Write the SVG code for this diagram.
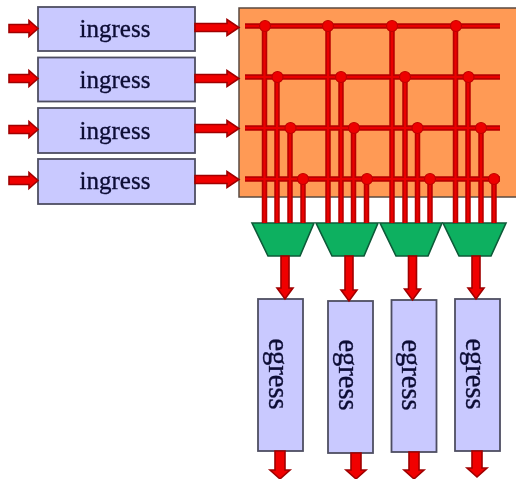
<svg xmlns="http://www.w3.org/2000/svg" width="516" height="479" viewBox="0 0 516 479">
  <defs>
    <filter id="soft" x="0" y="0" width="516" height="479" filterUnits="userSpaceOnUse"><feGaussianBlur stdDeviation="0.7"/></filter>
  </defs>
  <style>
    .box{fill:#c9c9ff;stroke:#4e4e62;stroke-width:1.800}
    .t{font-family:"Liberation Serif","Times New Roman",serif;fill:#0c0c34;stroke:#0c0c34;stroke-width:0.350;text-anchor:middle}
    .in{font-size:25px}
    .eg{font-size:28.500px}
    .arrow{fill:#f00000;stroke:#a00000;stroke-width:1.600;stroke-linejoin:miter}
    .wo{stroke:#b80000;stroke-width:5.500;fill:none}
    .wi{stroke:#ea0000;stroke-width:2.200;fill:none}
    .dot{fill:#ee0000;stroke:#c00000;stroke-width:1.200}
    .mux{fill:#0cb060;stroke:#0c5a38;stroke-width:1.600}
  </style>
  <g filter="url(#soft)">
    <rect width="516" height="479" fill="#ffffff"/>
    <g id="fabric"><rect x="239" y="8" width="280" height="189" fill="#ff9a55" stroke="#5a4a40" stroke-width="1.500"/></g>
    <g id="ingress-1"><rect class="box" x="38" y="7" width="157" height="44"/><text class="t in" x="115" y="37">ingress</text></g>
    <g id="ingress-2"><rect class="box" x="38" y="57.500" width="157" height="44"/><text class="t in" x="115" y="88">ingress</text></g>
    <g id="ingress-3"><rect class="box" x="38" y="108" width="157" height="45"/><text class="t in" x="115" y="138.500">ingress</text></g>
    <g id="ingress-4"><rect class="box" x="38" y="159" width="157" height="45"/><text class="t in" x="115" y="189">ingress</text></g>
    <g id="mux-1"><path class="mux" d="M252 223H314L300 256H268Z"/></g>
    <g id="mux-2"><path class="mux" d="M316 223H378L364 256H332Z"/></g>
    <g id="mux-3"><path class="mux" d="M380 223H442L428 256H396Z"/></g>
    <g id="mux-4"><path class="mux" d="M443 223H506L491 256H459Z"/></g>
    <g id="egress-1"><rect class="box" x="258" y="299" width="45" height="152"/><text class="t eg" transform="translate(269 374) rotate(90)">egress</text></g>
    <g id="egress-2"><rect class="box" x="328" y="301" width="45" height="152"/><text class="t eg" transform="translate(338.500 375) rotate(90)">egress</text></g>
    <g id="egress-3"><rect class="box" x="391.500" y="300" width="45" height="152"/><text class="t eg" transform="translate(402 375) rotate(90)">egress</text></g>
    <g id="egress-4"><rect class="box" x="455" y="299" width="45" height="152"/><text class="t eg" transform="translate(466 374) rotate(90)">egress</text></g>
    <g id="connectors">
      <path class="wo" d="M245 26H500M245 77H500M245 128H500M245 179H500"/>
      <path class="wo" d="M264.500 26V223M277 77V223M290 128V223M303 179V223M328 26V223M341 77V223M353.500 128V223M366.500 179V223M392 26V223M405 77V223M417.500 128V223M430 179V223M455.500 26V223M468 77V223M481 128V223M494 179V223"/>
      <path class="wi" d="M245 26H500M245 77H500M245 128H500M245 179H500"/>
      <path class="wi" d="M264.500 26V223M277 77V223M290 128V223M303 179V223M328 26V223M341 77V223M353.500 128V223M366.500 179V223M392 26V223M405 77V223M417.500 128V223M430 179V223M455.500 26V223M468 77V223M481 128V223M494 179V223"/>
      <g class="dot">
        <circle cx="265" cy="26" r="5.500"/><circle cx="328" cy="26" r="5.500"/><circle cx="392" cy="26" r="5.500"/><circle cx="456" cy="26" r="5.500"/>
        <circle cx="277.500" cy="77" r="5.500"/><circle cx="341" cy="77" r="5.500"/><circle cx="405" cy="77" r="5.500"/><circle cx="468.500" cy="77" r="5.500"/>
        <circle cx="290.500" cy="128" r="5.500"/><circle cx="354" cy="128" r="5.500"/><circle cx="417.500" cy="128" r="5.500"/><circle cx="481" cy="128" r="5.500"/>
        <circle cx="303" cy="179" r="5.500"/><circle cx="367" cy="179" r="5.500"/><circle cx="430" cy="179" r="5.500"/><circle cx="494" cy="179" r="5.500"/>
      </g>
      <path class="arrow" d="M9 24.500H29V20.500L38 28.500L29 36.500V32.500H9Z"/>
      <path class="arrow" d="M9 74.500H29V70.500L38 78.500L29 86.500V82.500H9Z"/>
      <path class="arrow" d="M9 125.500H29V121.500L38 129.500L29 137.500V133.500H9Z"/>
      <path class="arrow" d="M9 176.500H29V172.500L38 180.500L29 188.500V184.500H9Z"/>
      <path class="arrow" d="M195 23.500H227V19.500L239 27.500L227 35.500V31.500H195Z"/>
      <path class="arrow" d="M195 74.500H227V70.500L239 78.500L227 86.500V82.500H195Z"/>
      <path class="arrow" d="M195 124.500H227V120.500L239 128.500L227 136.500V132.500H195Z"/>
      <path class="arrow" d="M195 175.500H227V171.500L239 179.500L227 187.500V183.500H195Z"/>
      <path class="arrow" d="M281 256H289V288H293L285 299L277 288H281Z"/>
      <path class="arrow" d="M345 256H353V290H357L349 301L341 290H345Z"/>
      <path class="arrow" d="M408.500 256H416.500V289H420.500L412.500 300L404.500 289H408.500Z"/>
      <path class="arrow" d="M472 256H480V288H484L476 299L468 288H472Z"/>
      <path class="arrow" d="M275 451H285V470H290L280 479L270 470H275Z"/>
      <path class="arrow" d="M351 453H361V470H366L356 479L346 470H351Z"/>
      <path class="arrow" d="M409 452H419V470H424L414 479L404 470H409Z"/>
      <path class="arrow" d="M472 451H482V468H487L477 477L467 468H472Z"/>
    </g>
  </g>
</svg>
